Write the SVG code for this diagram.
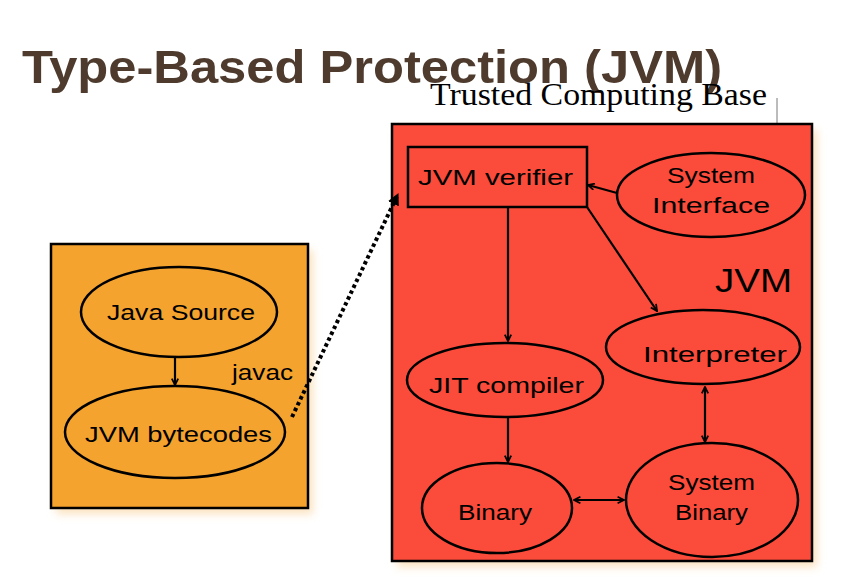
<svg xmlns="http://www.w3.org/2000/svg" width="865" height="588" viewBox="0 0 865 588">
<defs>
<style>
.node{fill:none;stroke:#000;stroke-width:2.5}
.lbl{font-family:"Liberation Sans","DejaVu Sans",sans-serif;font-size:22px;fill:#000;text-anchor:start}
.edge{fill:none;stroke:#000;stroke-width:2.2}
</style>
<marker id="ah" viewBox="0 0 10 10" refX="9" refY="5" markerWidth="8" markerHeight="8" orient="auto-start-reverse" markerUnits="userSpaceOnUse">
<path d="M1,1 L9,5 L1,9" fill="none" stroke="#000" stroke-width="2.2"/>
</marker>
<marker id="ahd" viewBox="0 0 10 10" refX="9" refY="5" markerWidth="12" markerHeight="12" orient="auto" markerUnits="userSpaceOnUse">
<path d="M0,0 L10,5 L0,10 z" fill="#000"/>
</marker>
<filter id="sh" x="-10%" y="-10%" width="130%" height="130%">
<feGaussianBlur stdDeviation="4"/>
</filter>
</defs>
<rect width="865" height="588" fill="#fff"/>
<text x="22" y="83" font-family="Liberation Sans, Arial, sans-serif" font-size="46" font-weight="bold" fill="#4e3b2e" textLength="700" lengthAdjust="spacingAndGlyphs">Type-Based Protection (JVM)</text>
<text x="430" y="105" font-family="Liberation Serif, Times New Roman, serif" font-size="31" fill="#000" textLength="337" lengthAdjust="spacingAndGlyphs">Trusted Computing Base</text>
<line x1="777" y1="98" x2="777" y2="123" stroke="#555" stroke-width="0.8"/>

<g id="shadows" filter="url(#sh)">
<rect x="397" y="130" width="420" height="437" fill="#fbe3c0"/>
<rect x="56" y="250" width="257" height="264" fill="#fbe3c0"/>
</g>

<g id="tcb">
<rect x="392" y="124" width="420" height="437" fill="#fb4b3b" stroke="#000" stroke-width="2.5"/>
<text x="715" y="292" font-family="Liberation Sans, sans-serif" font-size="34" fill="#000" textLength="77" lengthAdjust="spacingAndGlyphs">JVM</text>
</g>
<g id="source-box">
<rect x="51" y="244" width="257" height="264" fill="#f4a32f" stroke="#000" stroke-width="2.5"/>
</g>

<g id="java-source">
<ellipse class="node" cx="179" cy="312" rx="98" ry="45"/>
<text class="lbl" x="107" y="320" textLength="148" lengthAdjust="spacingAndGlyphs">Java Source</text>
</g>
<g id="jvm-bytecodes">
<ellipse class="node" cx="175" cy="432" rx="110" ry="46"/>
<text class="lbl" x="85" y="442" textLength="187" lengthAdjust="spacingAndGlyphs">JVM bytecodes</text>
</g>
<g id="jvm-verifier">
<rect class="node" x="408" y="147" width="179" height="60"/>
<text class="lbl" x="418" y="185" textLength="155" lengthAdjust="spacingAndGlyphs">JVM verifier</text>
</g>
<g id="system-interface">
<ellipse class="node" cx="711" cy="195" rx="94" ry="42"/>
<text class="lbl" x="667" y="183" textLength="88" lengthAdjust="spacingAndGlyphs">System</text>
<text class="lbl" x="652" y="213" textLength="118" lengthAdjust="spacingAndGlyphs">Interface</text>
</g>
<g id="interpreter">
<ellipse class="node" cx="703" cy="347" rx="97" ry="37"/>
<text class="lbl" x="643" y="362" textLength="144" lengthAdjust="spacingAndGlyphs">Interpreter</text>
</g>
<g id="jit-compiler">
<ellipse class="node" cx="505" cy="380" rx="98" ry="37"/>
<text class="lbl" x="429" y="393" textLength="155" lengthAdjust="spacingAndGlyphs">JIT compiler</text>
</g>
<g id="binary">
<ellipse class="node" cx="497" cy="508" rx="75" ry="45"/>
<text class="lbl" x="458" y="520" textLength="74" lengthAdjust="spacingAndGlyphs">Binary</text>
</g>
<g id="system-binary">
<ellipse class="node" cx="712" cy="500" rx="86" ry="57"/>
<text class="lbl" x="668" y="490" textLength="87" lengthAdjust="spacingAndGlyphs">System</text>
<text class="lbl" x="675" y="520" textLength="73" lengthAdjust="spacingAndGlyphs">Binary</text>
</g>

<g id="connectors">
<line class="edge" x1="175" y1="358" x2="175" y2="385" marker-end="url(#ah)"/>
<text class="lbl" x="232" y="380" textLength="61" lengthAdjust="spacingAndGlyphs">javac</text>
<line x1="292" y1="417" x2="398" y2="194" stroke="#000" stroke-width="4" stroke-dasharray="3.5 3" marker-end="url(#ahd)"/>
<line class="edge" x1="617" y1="193" x2="588" y2="185" marker-end="url(#ah)"/>
<line class="edge" x1="587" y1="207" x2="657" y2="311" marker-end="url(#ah)"/>
<line class="edge" x1="508" y1="207" x2="508" y2="341" marker-end="url(#ah)"/>
<line class="edge" x1="508" y1="417" x2="508" y2="462" marker-end="url(#ah)"/>
<line class="edge" x1="705" y1="387" x2="705" y2="442" marker-start="url(#ah)" marker-end="url(#ah)"/>
<line class="edge" x1="574" y1="500" x2="624" y2="500" marker-start="url(#ah)" marker-end="url(#ah)"/>
</g>
</svg>
